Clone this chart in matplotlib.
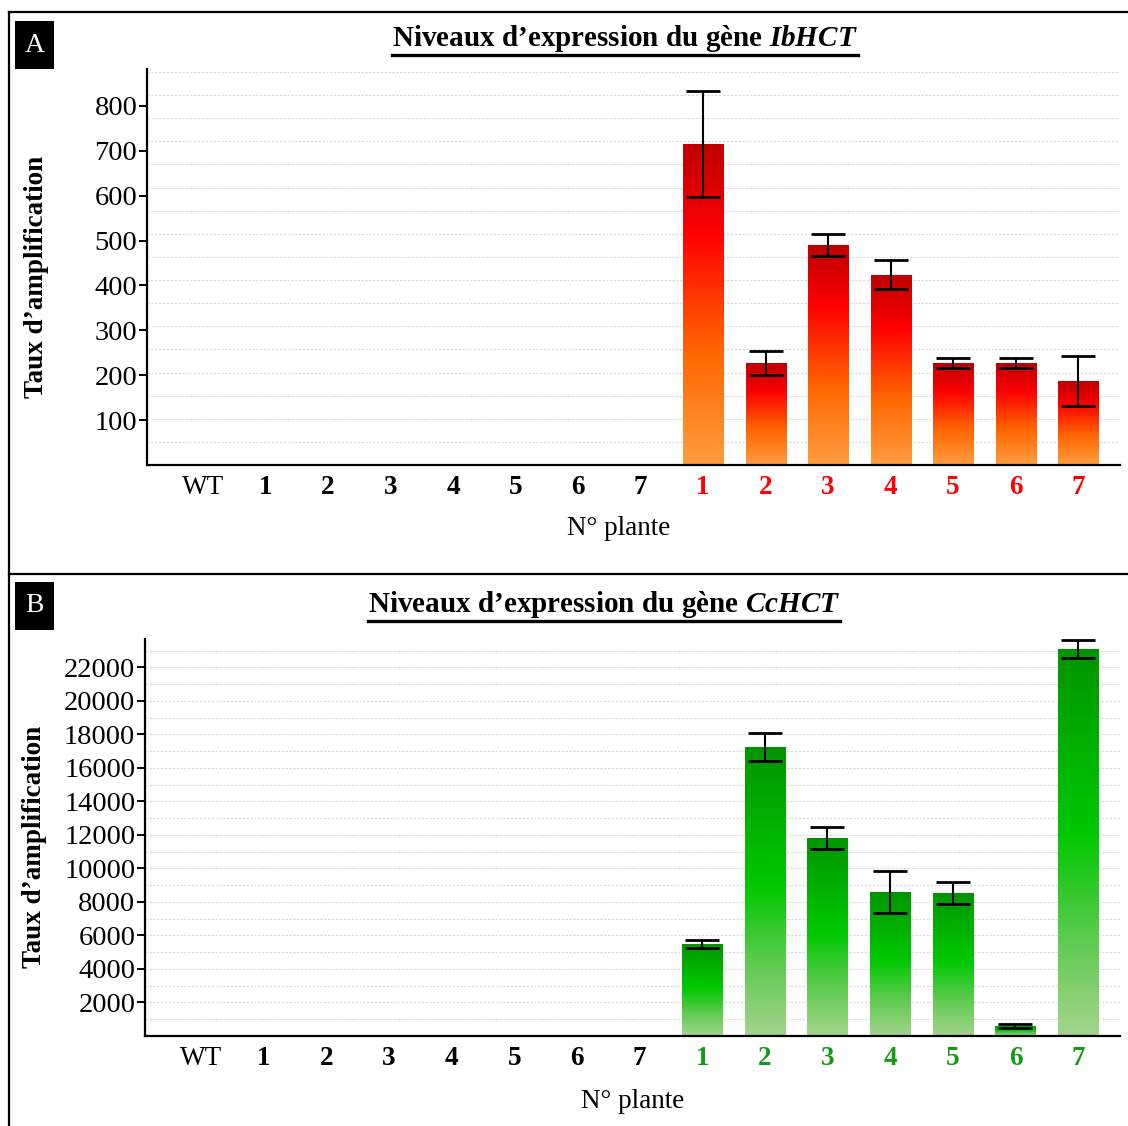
import numpy as np
import matplotlib

matplotlib.use("Agg")
import matplotlib.pyplot as plt
from matplotlib.colors import LinearSegmentedColormap
from matplotlib.lines import Line2D
from matplotlib.patches import Rectangle

plt.rcParams["font.family"] = ["Liberation Serif", "DejaVu Serif"]
plt.rcParams["mathtext.fontset"] = "custom"
plt.rcParams["mathtext.bfit"] = "Liberation Serif:italic:bold"
plt.rcParams["mathtext.bf"] = "Liberation Serif:bold"

# ── Data ────────────────────────────────────────────────
plant_labels = ["WT", "1", "2", "3", "4", "5", "6", "7",
                "1", "2", "3", "4", "5", "6", "7"]
n_control = 8  # WT + plants 1-7 (non transformed)

ib_values = [2, 1, 1, 1, 1, 1, 1, 2, 715, 227, 490, 424, 227, 227, 187]
ib_errors = [0, 0, 0, 0, 0, 0, 0, 0, 117, 27, 25, 33, 12, 12, 55]

cc_values = [20, 10, 10, 10, 10, 10, 10, 20, 5500, 17250, 11800, 8600, 8550, 600, 23100]
cc_errors = [0, 0, 0, 0, 0, 0, 0, 0, 230, 830, 660, 1270, 670, 100, 560]

ib_yticks = [100, 200, 300, 400, 500, 600, 700, 800]
cc_yticks = [2000, 4000, 6000, 8000, 10000, 12000, 14000, 16000,
             18000, 20000, 22000]

red_cmap = LinearSegmentedColormap.from_list(
    "reds", [(0.0, "#FF9D3F"), (0.35, "#FF6600"), (0.72, "#FF0000"),
             (0.86, "#DD0000"), (1.0, "#BF0000")])
green_cmap = LinearSegmentedColormap.from_list(
    "greens", [(0.0, "#A4D48C"), (0.25, "#5ECB50"), (0.52, "#00C800"),
               (0.78, "#00AD00"), (1.0, "#009500")])


def gradient_bars(ax, values, cmap, width):
    x = np.arange(len(values))
    bars = ax.bar(x, values, width=width, color="none", edgecolor="none", zorder=3)
    grad = np.linspace(1, 0, 256).reshape(-1, 1)
    for i, bar in enumerate(bars):
        if i < n_control:
            bar.set_facecolor("#C8C8C8")
            continue
        x0, y0 = bar.get_x(), bar.get_y()
        w, h = bar.get_width(), bar.get_height()
        im = ax.imshow(grad, cmap=cmap, extent=[x0, x0 + w, y0, y0 + h],
                       aspect="auto", zorder=3, vmin=0, vmax=1)
        im.set_clip_path(bar)
    return bars


def draw_panel(ax, values, errors, cmap, yticks, ymax, grid_step, label_color):
    x = np.arange(len(values))
    ax.set_xlim(-0.896, len(values) - 1 + 0.67)
    ax.set_ylim(0, ymax)

    for g in np.arange(grid_step, ymax, grid_step):
        ax.axhline(g, color="#D8D8D8", lw=0.8, ls=(0, (2, 1.5)), zorder=1)

    gradient_bars(ax, values, cmap, 0.64)

    xs = x[n_control:]
    ax.errorbar(xs, values[n_control:], yerr=errors[n_control:], fmt="none",
                ecolor="black", elinewidth=1.5, capsize=12.5, capthick=2, zorder=5)

    for side in ["top", "right"]:
        ax.spines[side].set_visible(False)
    for side in ["left", "bottom"]:
        ax.spines[side].set_linewidth(1.6)
        ax.spines[side].set_zorder(6)

    ax.set_yticks(yticks)
    ax.set_yticklabels([str(t) for t in yticks], fontsize=20.5)
    ax.tick_params(axis="y", length=6, width=1.4, pad=1)
    ax.set_xticks(x)
    ax.set_xticklabels(plant_labels, fontsize=19.5)
    ax.tick_params(axis="x", length=0, pad=7)
    for i, lab in enumerate(ax.get_xticklabels()):
        if i == 0:
            continue
        lab.set_fontweight("bold")
        if i >= n_control:
            lab.set_color(label_color)

    ax.set_ylabel("Taux d’amplification", fontsize=19.5, fontweight="bold")
    ax.yaxis.set_label_coords(-0.101, 0.475)
    ax.set_xlabel("N° plante", fontsize=19.5)


W, H = 1128, 1126
fig = plt.figure(figsize=(W / 100, H / 100), dpi=100)

ax_a = fig.add_axes([147 / W, 1 - 465 / H, (1120 - 147) / W, (465 - 69) / H])
ax_b = fig.add_axes([145 / W, 1 - 1036 / H, (1120 - 145) / W, (1036 - 639) / H])

draw_panel(ax_a, ib_values, ib_errors, red_cmap, ib_yticks, 882, 51.5, "#FF0000")
draw_panel(ax_b, cc_values, cc_errors, green_cmap, cc_yticks, 23700, 1000, "#169A16")
ax_a.xaxis.set_label_coords(0.485, -0.128)
ax_b.xaxis.set_label_coords(0.50, -0.133)

# ── Frame, panel letters, titles ────────────────────────
frame_kw = dict(color="black", lw=1.6, transform=fig.transFigure)
fig.add_artist(Line2D([9 / W, 9 / W], [0, 1 - 12 / H], **frame_kw))
fig.add_artist(Line2D([9 / W, 1], [1 - 12 / H, 1 - 12 / H], **frame_kw))
fig.add_artist(Line2D([9 / W, 1], [1 - 574 / H, 1 - 574 / H], **frame_kw))

for letter, top in [("A", 21), ("B", 582)]:
    fig.add_artist(Rectangle((15 / W, 1 - (top + 48) / H), 39 / W, 48 / H,
                             facecolor="black", edgecolor="none",
                             transform=fig.transFigure))
    fig.text(34.5 / W, 1 - (top + 24) / H, letter, color="white", fontsize=20,
             ha="center", va="center")

titles = [
    (r"Niveaux d’expression du gène $\mathbfit{IbHCT}$", 625, 38),
    (r"Niveaux d’expression du gène $\mathbfit{CcHCT}$", 604, 604),
]
title_texts = []
for txt, cx, cy in titles:
    t = fig.text(cx / W, 1 - cy / H, txt, fontsize=21, fontweight="bold",
                 ha="center", va="center")
    title_texts.append(t)

fig.canvas.draw()
renderer = fig.canvas.get_renderer()
for t in title_texts:
    bb = t.get_window_extent(renderer)
    y_line = (bb.y0 - 1) / H
    fig.add_artist(Line2D([bb.x0 / W, bb.x1 / W], [y_line, y_line],
                          color="black", lw=2.4, transform=fig.transFigure))

fig.savefig("out.png", dpi=100)
